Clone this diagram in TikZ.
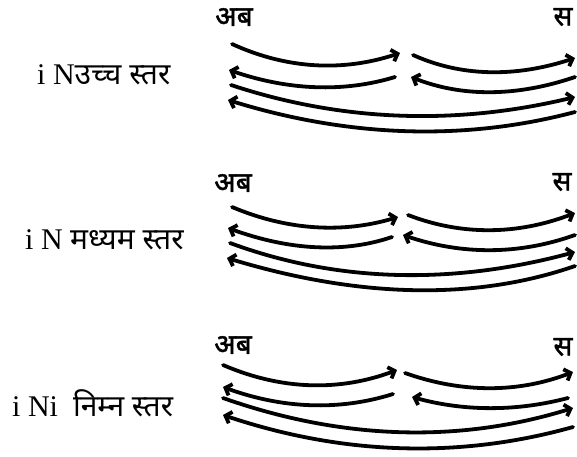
\documentclass[tikz,border=0pt]{standalone}
\usepackage{fontspec}
\setmainfont{Liberation Serif}
\newfontfamily\deva[Script=Devanagari]{Noto Sans}
\newfontfamily\devab[Script=Devanagari,FakeBold=1.5]{Noto Sans}
\usetikzlibrary{arrows.meta,calc}
\tikzset{
  flow/.style={line width=3.8pt, line cap=round, -{Straight Barb[length=5.5pt,width=12pt]}},
  toplabel/.style={font=\devab\fontsize{28}{32}\selectfont, inner sep=0pt},
  sidelabel/.style={font=\fontsize{30}{34}\selectfont, inner sep=0pt, anchor=west}
}
% quadratic curve from #2 to #3 with control point (#4)
\newcommand{\qcurve}[4]{\draw[#1] (#2) .. controls ($(#2)!2/3!(#4)$) and ($(#3)!2/3!(#4)$) .. (#3);}
\begin{document}
\begin{tikzpicture}[x=1pt,y=-1pt]
\useasboundingbox (0,0) rectangle (577,456);
% ---------- panel 1 ----------
\node[toplabel] (ab1) at (234,17) {अब};
\node[toplabel] (s1) at (563,17) {स};
\node[sidelabel] (lab1) at (37,75) {i N{\deva उच्च स्तर}};
\coordinate (p1a) at (232,44);  \coordinate (p1b) at (400,53);
\coordinate (p1c) at (413,55);  \coordinate (p1d) at (575,58);
\coordinate (p1e) at (395,77);  \coordinate (p1f) at (229,70);
\coordinate (p1g) at (575,77);  \coordinate (p1h) at (411,77);
\coordinate (p1i) at (231,85);  \coordinate (p1j) at (575,97);
\coordinate (p1k) at (575,112); \coordinate (p1l) at (228,100);
\qcurve{flow}{p1a}{p1b}{314,81.5}
\qcurve{flow}{p1c}{p1d}{485,87.5}
\qcurve{flow}{p1e}{p1f}{318,100.5}
\qcurve{flow}{p1g}{p1h}{487,107}
\qcurve{flow}{p1i}{p1j}{397,140}
\qcurve{flow}{p1k}{p1l}{409,156}
% ---------- panel 2 ----------
\node[toplabel] (ab2) at (233,183) {अब};
\node[toplabel] (s2) at (562,182) {स};
\node[sidelabel] (lab2) at (25,240) {i N\ {\deva मध्यम स्तर}};
\coordinate (p2a) at (232,207); \coordinate (p2b) at (398,217);
\coordinate (p2c) at (408,215); \coordinate (p2d) at (575,213);
\coordinate (p2e) at (392,237); \coordinate (p2f) at (228,228);
\coordinate (p2g) at (575,235); \coordinate (p2h) at (403,235);
\coordinate (p2i) at (230,243); \coordinate (p2j) at (575,252);
\coordinate (p2k) at (575,266); \coordinate (p2l) at (227,258);
\qcurve{flow}{p2a}{p2b}{315,242}
\qcurve{flow}{p2c}{p2d}{488.5,246}
\qcurve{flow}{p2e}{p2f}{320,261.5}
\qcurve{flow}{p2g}{p2h}{491,265}
\qcurve{flow}{p2i}{p2j}{390,302}
\qcurve{flow}{p2k}{p2l}{425,318}
% ---------- panel 3 ----------
\node[toplabel] (ab3) at (233,345) {अब};
\node[toplabel] (s3) at (563,347) {स};
\node[sidelabel] (lab3) at (12,403) {i Ni\ \ {\deva निम्न स्तर}};
\coordinate (p3a) at (223,365); \coordinate (p3b) at (397,370);
\coordinate (p3c) at (405,373); \coordinate (p3d) at (573,372);
\coordinate (p3e) at (393,394); \coordinate (p3f) at (223,387);
\coordinate (p3g) at (568,398); \coordinate (p3h) at (412,397);
\coordinate (p3i) at (223,398); \coordinate (p3j) at (573,408);
\coordinate (p3k) at (573,427); \coordinate (p3l) at (223,415);
\qcurve{flow}{p3a}{p3b}{310,402.5}
\qcurve{flow}{p3c}{p3d}{491,403.5}
\qcurve{flow}{p3e}{p3f}{312,419.5}
\qcurve{flow}{p3g}{p3h}{490,418.5}
\qcurve{flow}{p3i}{p3j}{402,461}
\qcurve{flow}{p3k}{p3l}{402,475}
\end{tikzpicture}
\end{document}
